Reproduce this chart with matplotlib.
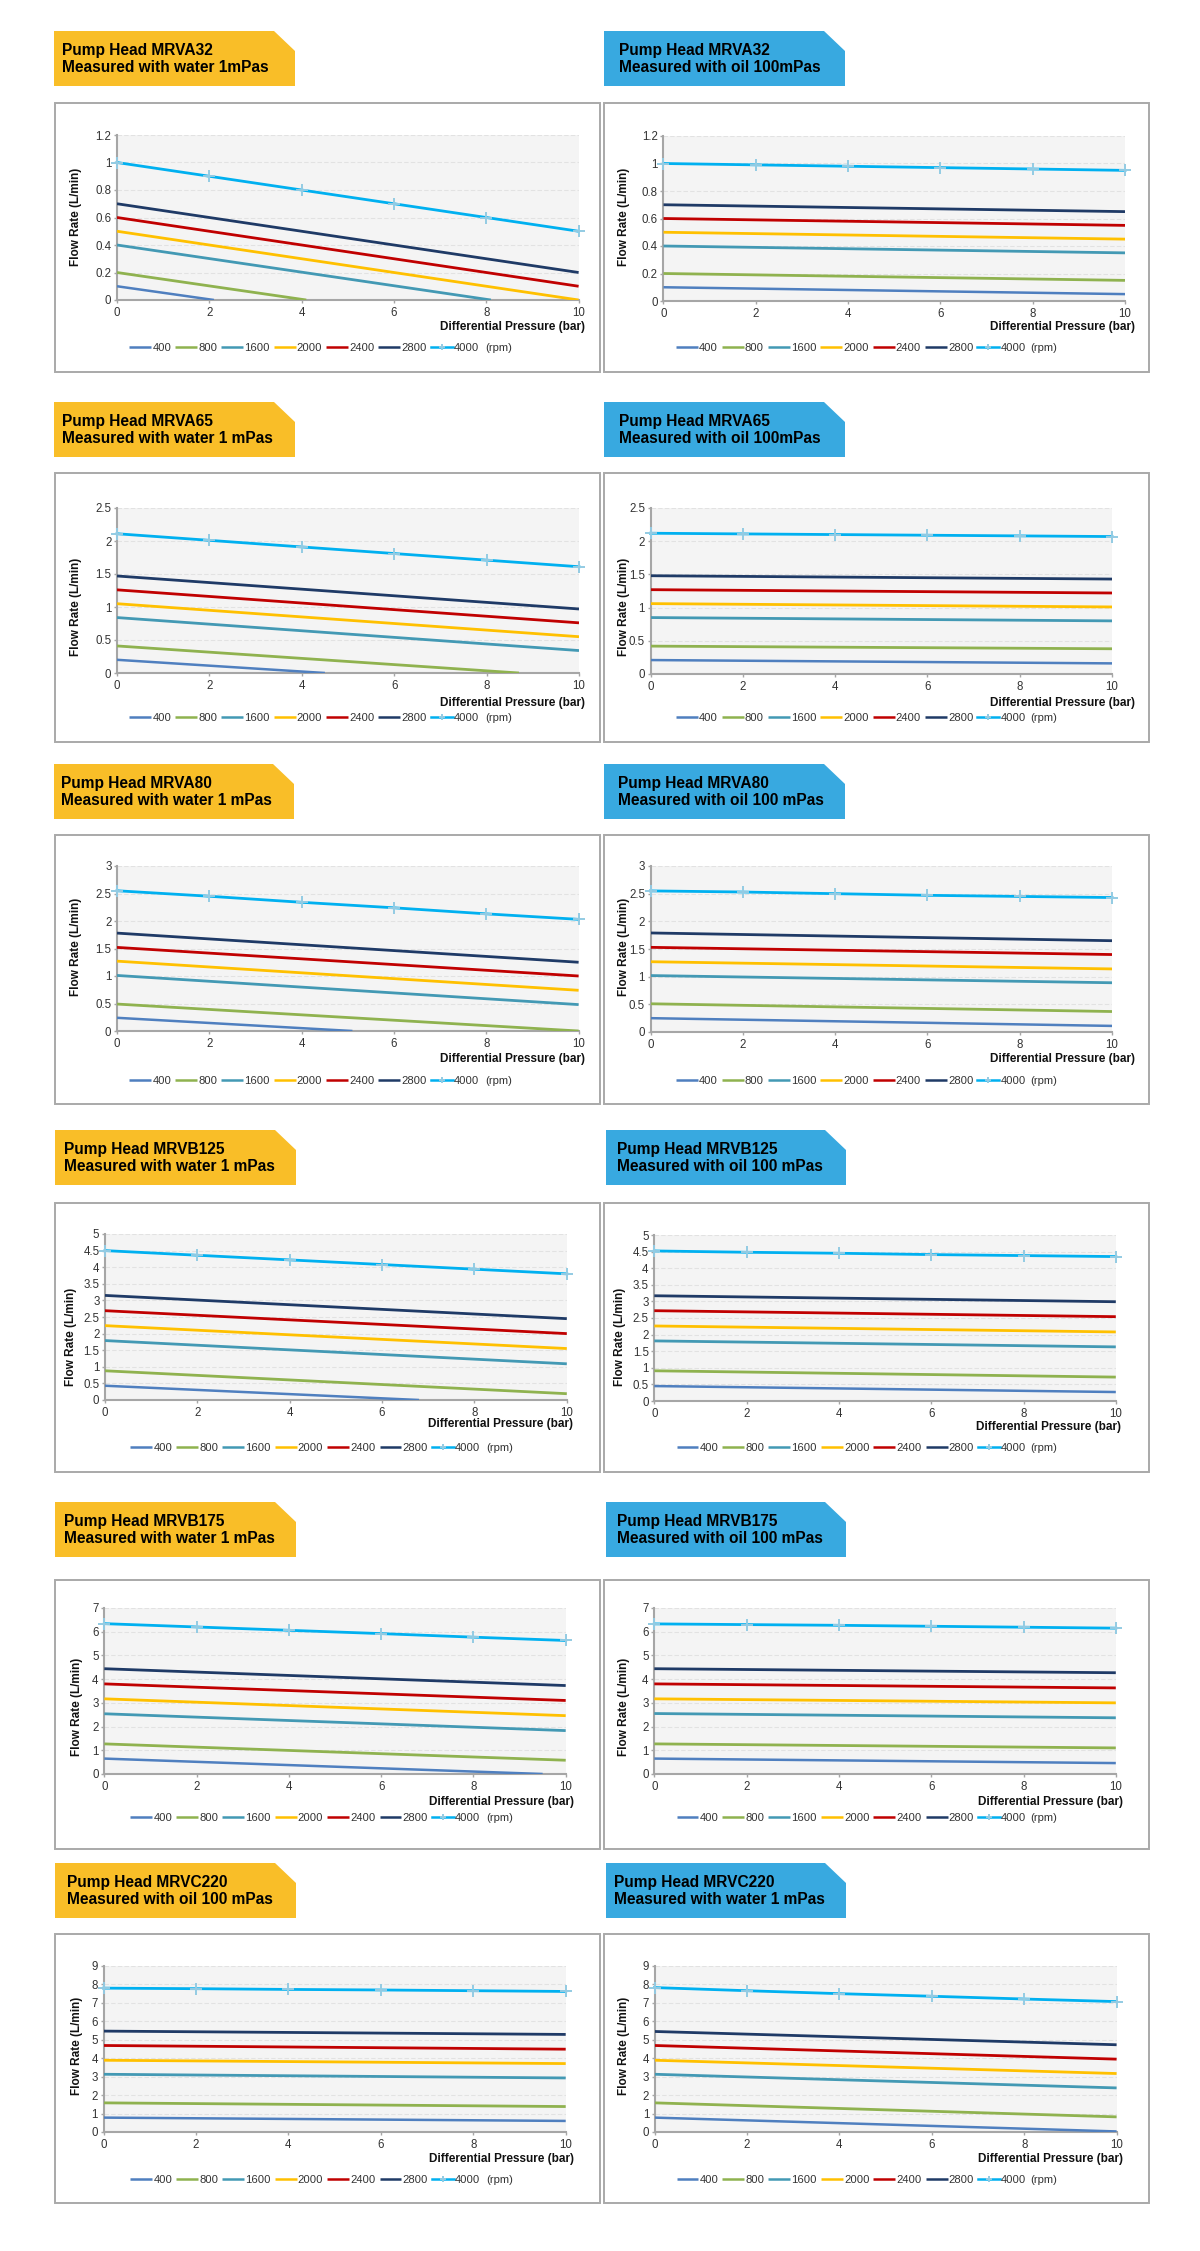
import matplotlib
matplotlib.use('Agg')
import matplotlib.pyplot as plt
from matplotlib.patches import Rectangle, Polygon
from matplotlib.ticker import FuncFormatter, MultipleLocator

W, H = 1200, 2251
plt.rcParams['font.family'] = ['Liberation Sans', 'DejaVu Sans']

# ---------------- data ----------------
PRESSURE = [0, 2, 4, 6, 8, 10]                    # bar, 4000 rpm marker points
SPEEDS = ['400', '800', '1600', '2000', '2400', '2800', '4000']

# start = flow at 0 bar, end = flow at end pressure, end_p = last pressure (lower 6 speeds)
MRVA32_WATER_START = [0.10, 0.20, 0.40, 0.50, 0.60, 0.70]
MRVA32_WATER_END = [0.0, 0.0, 0.0, 0.0, 0.10, 0.20]
MRVA32_WATER_END_P = [2.1, 4.1, 8.1, 10, 10, 10]
MRVA32_WATER_4000 = [1.00, 0.90, 0.80, 0.70, 0.60, 0.50]

MRVA32_OIL_START = [0.10, 0.20, 0.40, 0.50, 0.60, 0.70]
MRVA32_OIL_END = [0.05, 0.15, 0.35, 0.45, 0.55, 0.65]
MRVA32_OIL_END_P = [10, 10, 10, 10, 10, 10]
MRVA32_OIL_4000 = [1.00, 0.99, 0.98, 0.97, 0.96, 0.95]

MRVA65_WATER_START = [0.20, 0.41, 0.84, 1.05, 1.26, 1.47]
MRVA65_WATER_END = [0.0, 0.0, 0.34, 0.55, 0.76, 0.97]
MRVA65_WATER_END_P = [4.5, 8.7, 10, 10, 10, 10]
MRVA65_WATER_4000 = [2.11, 2.01, 1.91, 1.81, 1.71, 1.61]

MRVA65_OIL_START = [0.21, 0.42, 0.85, 1.06, 1.27, 1.48]
MRVA65_OIL_END = [0.16, 0.38, 0.80, 1.01, 1.22, 1.43]
MRVA65_OIL_END_P = [10, 10, 10, 10, 10, 10]
MRVA65_OIL_4000 = [2.12, 2.11, 2.10, 2.09, 2.08, 2.07]

MRVA80_WATER_START = [0.24, 0.49, 1.01, 1.27, 1.52, 1.78]
MRVA80_WATER_END = [0.0, 0.0, 0.48, 0.74, 1.00, 1.25]
MRVA80_WATER_END_P = [5.1, 10, 10, 10, 10, 10]
MRVA80_WATER_4000 = [2.55, 2.45, 2.34, 2.24, 2.13, 2.03]

MRVA80_OIL_START = [0.25, 0.51, 1.02, 1.27, 1.53, 1.79]
MRVA80_OIL_END = [0.11, 0.37, 0.89, 1.14, 1.40, 1.65]
MRVA80_OIL_END_P = [10, 10, 10, 10, 10, 10]
MRVA80_OIL_4000 = [2.55, 2.53, 2.50, 2.47, 2.45, 2.43]

MRVB125_WATER_START = [0.43, 0.88, 1.79, 2.24, 2.69, 3.15]
MRVB125_WATER_END = [0.0, 0.19, 1.09, 1.55, 2.00, 2.45]
MRVB125_WATER_END_P = [6.8, 10, 10, 10, 10, 10]
MRVB125_WATER_4000 = [4.50, 4.36, 4.22, 4.08, 3.94, 3.80]

MRVB125_OIL_START = [0.45, 0.91, 1.81, 2.26, 2.72, 3.17]
MRVB125_OIL_END = [0.27, 0.72, 1.63, 2.08, 2.54, 2.99]
MRVB125_OIL_END_P = [10, 10, 10, 10, 10, 10]
MRVB125_OIL_4000 = [4.52, 4.48, 4.45, 4.41, 4.38, 4.35]

MRVB175_WATER_START = [0.65, 1.27, 2.54, 3.17, 3.80, 4.44]
MRVB175_WATER_END = [0.0, 0.58, 1.83, 2.46, 3.10, 3.73]
MRVB175_WATER_END_P = [9.5, 10, 10, 10, 10, 10]
MRVB175_WATER_4000 = [6.34, 6.20, 6.06, 5.92, 5.77, 5.63]

MRVB175_OIL_START = [0.65, 1.27, 2.55, 3.17, 3.80, 4.44]
MRVB175_OIL_END = [0.46, 1.10, 2.37, 3.00, 3.63, 4.27]
MRVB175_OIL_END_P = [10, 10, 10, 10, 10, 10]
MRVB175_OIL_4000 = [6.33, 6.30, 6.27, 6.23, 6.19, 6.15]

MRVC220_OIL_START = [0.78, 1.58, 3.13, 3.89, 4.69, 5.47]
MRVC220_OIL_END = [0.60, 1.38, 2.93, 3.71, 4.49, 5.29]
MRVC220_OIL_END_P = [10, 10, 10, 10, 10, 10]
MRVC220_OIL_4000 = [7.80, 7.77, 7.73, 7.70, 7.66, 7.62]

MRVC220_WATER_START = [0.78, 1.58, 3.13, 3.89, 4.69, 5.45]
MRVC220_WATER_END = [0.03, 0.82, 2.39, 3.17, 3.95, 4.73]
MRVC220_WATER_END_P = [10, 10, 10, 10, 10, 10]
MRVC220_WATER_4000 = [7.83, 7.66, 7.50, 7.36, 7.21, 7.07]

Y_MAX = [1.2, 2.5, 3, 5, 7, 9]
Y_STEP = [0.2, 0.5, 0.5, 0.5, 1, 1]

TITLES = [
    ["Pump Head MRVA32\nMeasured with water 1mPas", "Pump Head MRVA32\nMeasured with oil 100mPas"],
    ["Pump Head MRVA65\nMeasured with water 1 mPas", "Pump Head MRVA65\nMeasured with oil 100mPas"],
    ["Pump Head MRVA80\nMeasured with water 1 mPas", "Pump Head MRVA80\nMeasured with oil 100 mPas"],
    ["Pump Head MRVB125\nMeasured with water 1 mPas", "Pump Head MRVB125\nMeasured with oil 100 mPas"],
    ["Pump Head MRVB175\nMeasured with water 1 mPas", "Pump Head MRVB175\nMeasured with oil 100 mPas"],
    ["Pump Head MRVC220\nMeasured with oil 100 mPas", "Pump Head MRVC220\nMeasured with water 1 mPas"],
]

SERIES = [
    [(MRVA32_WATER_START, MRVA32_WATER_END, MRVA32_WATER_END_P, MRVA32_WATER_4000),
     (MRVA32_OIL_START, MRVA32_OIL_END, MRVA32_OIL_END_P, MRVA32_OIL_4000)],
    [(MRVA65_WATER_START, MRVA65_WATER_END, MRVA65_WATER_END_P, MRVA65_WATER_4000),
     (MRVA65_OIL_START, MRVA65_OIL_END, MRVA65_OIL_END_P, MRVA65_OIL_4000)],
    [(MRVA80_WATER_START, MRVA80_WATER_END, MRVA80_WATER_END_P, MRVA80_WATER_4000),
     (MRVA80_OIL_START, MRVA80_OIL_END, MRVA80_OIL_END_P, MRVA80_OIL_4000)],
    [(MRVB125_WATER_START, MRVB125_WATER_END, MRVB125_WATER_END_P, MRVB125_WATER_4000),
     (MRVB125_OIL_START, MRVB125_OIL_END, MRVB125_OIL_END_P, MRVB125_OIL_4000)],
    [(MRVB175_WATER_START, MRVB175_WATER_END, MRVB175_WATER_END_P, MRVB175_WATER_4000),
     (MRVB175_OIL_START, MRVB175_OIL_END, MRVB175_OIL_END_P, MRVB175_OIL_4000)],
    [(MRVC220_OIL_START, MRVC220_OIL_END, MRVC220_OIL_END_P, MRVC220_OIL_4000),
     (MRVC220_WATER_START, MRVC220_WATER_END, MRVC220_WATER_END_P, MRVC220_WATER_4000)],
]

# ---------------- styles / layout (pixels) ----------------
COLORS = ['#4F7FBF', '#8FB24F', '#4399B4', '#FFC000', '#C00000', '#1F3A66', '#00B0F0']
MARKER_COLOR = '#93CBE3'
HEAD_COLORS = ['#F9BE28', '#38A9E0']

HEAD_X = [[(54, 295), (604, 845)], [(54, 295), (604, 845)], [(54, 294), (604, 845)],
          [(55, 296), (606, 846)], [(55, 296), (606, 846)], [(55, 296), (606, 846)]]
HEAD_TOP = [31, 402, 764, 1130, 1502, 1863]
HEAD_H = 55
HEAD_TEXT_X = [[62, 619], [62, 619], [61.5, 618.5], [64, 617], [64.3, 617], [67, 614.5]]
BOX_X = [(55, 600), (604, 1149)]
BOX_TOP = [103, 473, 835, 1203, 1580, 1934]
BOX_H = 269
AX_X = [[(117, 578.6), (663.5, 1125)], [(117, 579), (650.5, 1112)], [(117, 578.6), (650.5, 1112)],
        [(105, 566.8), (654.3, 1115.8)], [(104.3, 565.7), (654.3, 1115.8)],
        [(103.6, 565.7), (654.7, 1116.6)]]
AX_Y = [[(135, 300), (136, 301)], [(508, 673), (508, 674)], [(866, 1031), (866, 1032)],
        [(1234, 1400), (1235, 1401)], [(1608, 1774), (1608, 1774)], [(1966, 2132), (1966, 2132)]]
YLAB_X = [[75.7, 623.7], [75.7, 623.7], [75.7, 623.7], [70.7, 620], [76.8, 623.7], [76.8, 623.7]]
YLAB_Y = [217, 607, 947, 1337, 1707, 2046]
XLAB_X = [[584.6, 1135], [584.6, 1135], [584.6, 1135], [572.9, 1121], [574, 1123.5], [574, 1123.5]]
XLAB_Y = [[327, 327], [703, 703], [1059, 1059], [1424, 1427], [1802, 1802], [2159, 2159]]
LEG_X = [[129.3, 675.8], [129.3, 675.8], [129.3, 675.8], [130.4, 676.5], [130.4, 676.5],
         [130.4, 676.5]]
LEG_Y = [348, 718, 1081, 1448, 1818, 2180]
RPM_GAP = [4.6, 3.0]


def fx(x):
    return x / W


def fy(y):
    return 1 - y / H


fig = plt.figure(figsize=(W / 100, H / 100), dpi=100)
fig.patch.set_facecolor('white')

fmt = FuncFormatter(lambda v, p: '{:g}'.format(round(v, 2)))

for r in range(6):
    for c in range(2):
        # header tag with chamfered corner
        hx0, hx1 = HEAD_X[r][c]
        ht = HEAD_TOP[r]
        hb = ht + HEAD_H
        pts = [(fx(hx0), fy(ht)), (fx(hx1 - 21), fy(ht)), (fx(hx1), fy(ht + 20)),
               (fx(hx1), fy(hb)), (fx(hx0), fy(hb))]
        fig.add_artist(Polygon(pts, closed=True, facecolor=HEAD_COLORS[c], edgecolor='none',
                               transform=fig.transFigure, zorder=-2))
        fig.text(fx(HEAD_TEXT_X[r][c]), fy((ht + hb) / 2 + 0.5), TITLES[r][c], ha='left',
                 va='center', fontsize=11.2, fontweight='bold', color='black', linespacing=1.18)

        # chart frame
        bx0, bx1 = BOX_X[c]
        bt = BOX_TOP[r]
        fig.add_artist(Rectangle((fx(bx0), fy(bt + BOX_H)), (bx1 - bx0) / W, BOX_H / H,
                                 facecolor='white', edgecolor='#A9A9A9', lw=1.4,
                                 transform=fig.transFigure, zorder=-1))

        # axes
        ax0, ax1 = AX_X[r][c]
        ay0, ay1 = AX_Y[r][c]
        ax = fig.add_axes([fx(ax0), fy(ay1), (ax1 - ax0) / W, (ay1 - ay0) / H])
        ax.set_facecolor('#F4F4F4')
        start, end, end_p, s4000 = SERIES[r][c]
        handles = []
        for i in range(6):
            lw = 1.8 if i == 0 else 2.0
            h, = ax.plot([0, end_p[i]], [start[i], end[i]], color=COLORS[i], lw=lw,
                         solid_capstyle='butt', zorder=3)
            handles.append(h)
        h, = ax.plot(PRESSURE, s4000, color=COLORS[6], lw=2.0, marker='+', ms=8,
                     mec=MARKER_COLOR, mew=1.4, clip_on=False, zorder=4)
        handles.append(h)

        ax.set_xlim(0, 10)
        ax.set_ylim(0, Y_MAX[r])
        ax.xaxis.set_major_locator(MultipleLocator(2))
        ax.yaxis.set_major_locator(MultipleLocator(Y_STEP[r]))
        ax.xaxis.set_major_formatter(fmt)
        ax.yaxis.set_major_formatter(fmt)
        ax.yaxis.grid(True, color='#E2E2E2', lw=0.8, ls=(0, (4, 2)))
        ax.set_axisbelow(True)
        for s in ['top', 'right']:
            ax.spines[s].set_visible(False)
        for s in ['left', 'bottom']:
            ax.spines[s].set_color('#A6A6A6')
            ax.spines[s].set_linewidth(1.5)
        ax.tick_params(axis='both', length=2.5, width=1, color='#A6A6A6',
                       labelsize=8.3, labelcolor='#333333')
        ax.tick_params(axis='y', pad=1.5)
        ax.tick_params(axis='x', pad=2.5)

        fig.text(fx(YLAB_X[r][c]), fy(YLAB_Y[r]), 'Flow Rate (L/min)', rotation=90,
                 ha='center', va='center', fontsize=8.5, fontweight='bold', color='#111111')
        fig.text(fx(XLAB_X[r][c]), fy(XLAB_Y[r][c]), 'Differential Pressure (bar)',
                 ha='right', va='center', fontsize=8.5, fontweight='bold', color='#111111')

        leg = ax.legend(handles, SPEEDS, loc='center left',
                        bbox_to_anchor=(fx(LEG_X[r][c]), fy(LEG_Y[r])),
                        bbox_transform=fig.transFigure, ncol=7, frameon=False,
                        handlelength=1.95, handletextpad=0.1,
                        columnspacing=0.35, fontsize=8.1,
                        borderpad=0, borderaxespad=0, labelcolor='#333333')
        for lh in leg.legend_handles:
            lh.set_linewidth(1.8)
            lh.set_markersize(5)
        ax.annotate('(rpm)', xy=(1, 0.5), xycoords=leg, xytext=(RPM_GAP[c], 0),
                    textcoords='offset points', ha='left', va='center',
                    fontsize=8.1, color='#333333', annotation_clip=False)

fig.savefig('out.png', dpi=100, facecolor='white')
